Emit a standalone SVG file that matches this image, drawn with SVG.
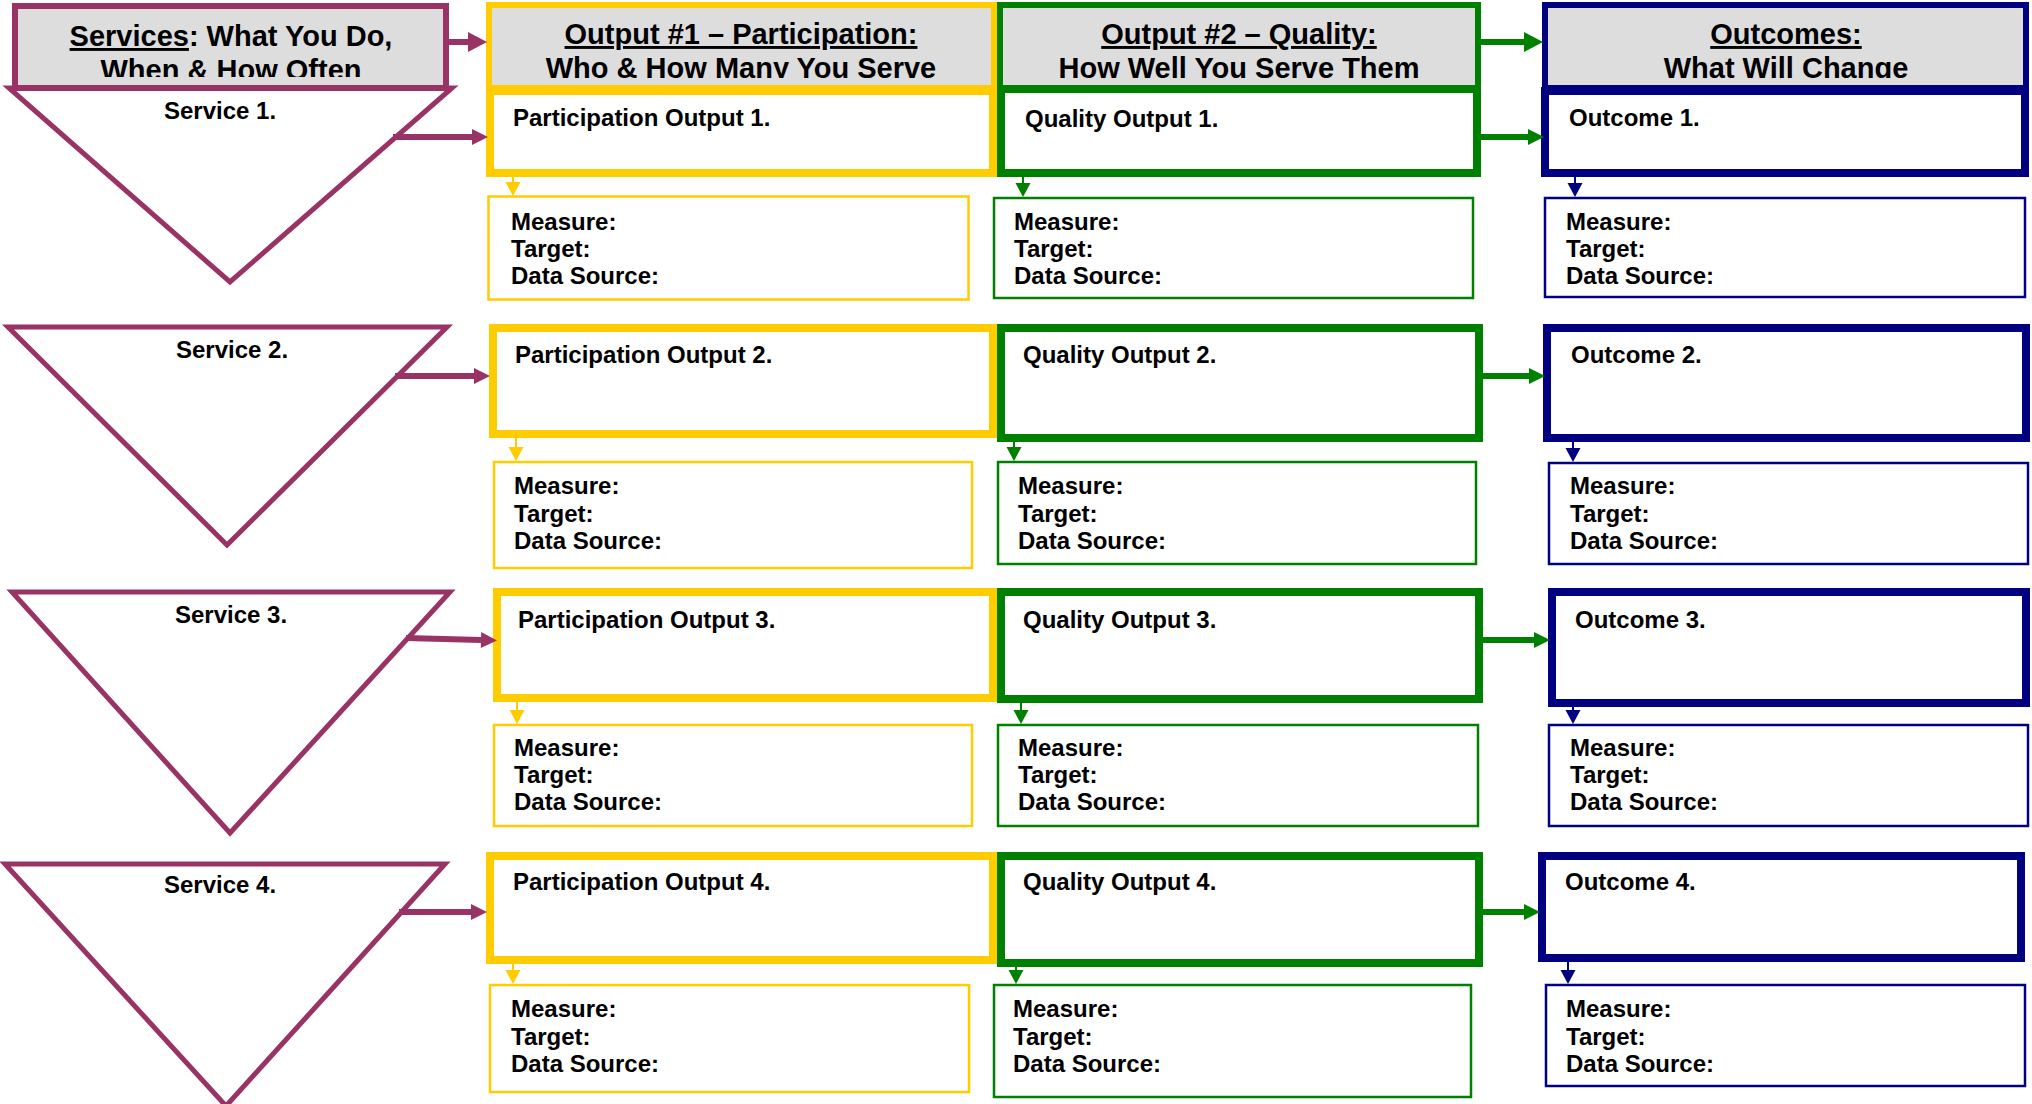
<svg xmlns="http://www.w3.org/2000/svg" width="2032" height="1104" viewBox="0 0 2032 1104">
<style>
text{font-family:"Liberation Sans",Arial,sans-serif;font-weight:bold;fill:#000}
.h{font-size:29px;text-anchor:middle}
.t{font-size:24px}
.c{text-anchor:middle}
.u{text-decoration:underline}
.tri{fill:#fff;stroke:#993366;stroke-width:5;stroke-linejoin:miter}
.hp{fill:#ddd;stroke:#993366;stroke-width:6}
.hy{fill:#ddd;stroke:#ffcc00;stroke-width:6}
.hg{fill:#ddd;stroke:#008000;stroke-width:6}
.hn{fill:#ddd;stroke:#000080;stroke-width:6}
.by{fill:#fff;stroke:#ffcc00;stroke-width:8}
.bg{fill:#fff;stroke:#008000;stroke-width:8}
.bn{fill:#fff;stroke:#000080;stroke-width:8}
.my{fill:#fff;stroke:#ffcc00;stroke-width:2.5}
.mg{fill:#fff;stroke:#008000;stroke-width:2.5}
.mn{fill:#fff;stroke:#000080;stroke-width:2.5}
.ap{fill:none;stroke:#993366;stroke-width:6;marker-end:url(#mp)}
.apb{fill:none;stroke:#993366;stroke-width:6;marker-end:url(#mpb)}
.ag{fill:none;stroke:#008000;stroke-width:6;marker-end:url(#mg)}
.agb{fill:none;stroke:#008000;stroke-width:6;marker-end:url(#mgb)}
.sy{fill:none;stroke:#ffcc00;stroke-width:2;marker-end:url(#sy)}
.sg{fill:none;stroke:#008000;stroke-width:2;marker-end:url(#sg)}
.sn{fill:none;stroke:#000080;stroke-width:2;marker-end:url(#sn)}
</style>
<defs>
<clipPath id="hc"><rect x="0" y="0" width="2032" height="78"/></clipPath>
<clipPath id="hs"><rect x="0" y="0" width="2032" height="77"/></clipPath>
<marker id="mp" markerUnits="userSpaceOnUse" markerWidth="16" markerHeight="16" refX="0" refY="8" orient="auto" overflow="visible"><path d="M0,0 L16,8 L0,16 z" fill="#993366"/></marker>
<marker id="mpb" markerUnits="userSpaceOnUse" markerWidth="19" markerHeight="20" refX="0" refY="10" orient="auto" overflow="visible"><path d="M0,0 L19,10 L0,20 z" fill="#993366"/></marker>
<marker id="mg" markerUnits="userSpaceOnUse" markerWidth="16" markerHeight="16" refX="0" refY="8" orient="auto" overflow="visible"><path d="M0,0 L16,8 L0,16 z" fill="#008000"/></marker>
<marker id="mgb" markerUnits="userSpaceOnUse" markerWidth="19" markerHeight="20" refX="0" refY="10" orient="auto" overflow="visible"><path d="M0,0 L19,10 L0,20 z" fill="#008000"/></marker>
<marker id="sy" markerUnits="userSpaceOnUse" markerWidth="14" markerHeight="15" refX="0" refY="7.5" orient="auto" overflow="visible"><path d="M0,0 L14,7.5 L0,15 z" fill="#ffcc00"/></marker>
<marker id="sg" markerUnits="userSpaceOnUse" markerWidth="14" markerHeight="15" refX="0" refY="7.5" orient="auto" overflow="visible"><path d="M0,0 L14,7.5 L0,15 z" fill="#008000"/></marker>
<marker id="sn" markerUnits="userSpaceOnUse" markerWidth="14" markerHeight="15" refX="0" refY="7.5" orient="auto" overflow="visible"><path d="M0,0 L14,7.5 L0,15 z" fill="#000080"/></marker>
</defs>
<rect width="2032" height="1104" fill="#fff"/>

<!-- Services column -->
<g id="service1"><polygon class="tri" points="9,88 452,88 230,282"/><text class="t c" x="220" y="119">Service 1.</text></g>
<g id="services-header"><rect class="hp" x="15" y="6" width="431" height="82"/>
<text class="h" x="231" y="46"><tspan class="u">Services</tspan>: What You Do,</text>
<text class="h" x="231" y="80" clip-path="url(#hs)">When &amp; How Often</text></g>
<g id="service2"><polygon class="tri" points="8,327 447,327 227,545"/><text class="t c" x="232" y="358">Service 2.</text></g>
<g id="service3"><polygon class="tri" points="12,592 450,592 230,833"/><text class="t c" x="231" y="623">Service 3.</text></g>
<g id="service4"><polygon class="tri" points="5,864 445,864 226,1106"/><text class="t c" x="220" y="893">Service 4.</text></g>

<!-- Participation column -->
<g id="participation-header"><rect class="hy" x="489" y="5" width="505" height="83"/>
<text class="h u" x="741" y="44">Output #1 – Participation:</text>
<text class="h" x="741" y="78" clip-path="url(#hc)">Who &amp; How Many You Serve</text></g>
<g id="participation1"><rect class="by" x="490" y="91" width="503" height="82"/><text class="t" x="513" y="126">Participation Output 1.</text></g>
<g id="participation1-measure"><rect class="my" x="488.5" y="196.5" width="480" height="103"/>
<text class="t" x="511" y="230">Measure:</text><text class="t" x="511" y="257">Target:</text><text class="t" x="511" y="284">Data Source:</text></g>
<g id="participation2"><rect class="by" x="493" y="328" width="500" height="106"/><text class="t" x="515" y="363">Participation Output 2.</text></g>
<g id="participation2-measure"><rect class="my" x="494" y="462" width="478" height="106"/>
<text class="t" x="514" y="494">Measure:</text><text class="t" x="514" y="522">Target:</text><text class="t" x="514" y="549">Data Source:</text></g>
<g id="participation3"><rect class="by" x="497" y="592" width="496" height="106"/><text class="t" x="518" y="628">Participation Output 3.</text></g>
<g id="participation3-measure"><rect class="my" x="494" y="725" width="478" height="101"/>
<text class="t" x="514" y="756">Measure:</text><text class="t" x="514" y="783">Target:</text><text class="t" x="514" y="810">Data Source:</text></g>
<g id="participation4"><rect class="by" x="490" y="856" width="503" height="104"/><text class="t" x="513" y="890">Participation Output 4.</text></g>
<g id="participation4-measure"><rect class="my" x="490" y="985" width="479" height="107"/>
<text class="t" x="511" y="1017">Measure:</text><text class="t" x="511" y="1045">Target:</text><text class="t" x="511" y="1072">Data Source:</text></g>

<!-- Quality column -->
<g id="quality-header"><rect class="hg" x="1000" y="5" width="478" height="83"/>
<text class="h u" x="1239" y="44">Output #2 – Quality:</text>
<text class="h" x="1239" y="78" clip-path="url(#hc)">How Well You Serve Them</text></g>
<g id="quality1"><rect class="bg" x="1001" y="89" width="476" height="84"/><text class="t" x="1025" y="127">Quality Output 1.</text></g>
<g id="quality1-measure"><rect class="mg" x="994" y="198" width="479" height="100"/>
<text class="t" x="1014" y="230">Measure:</text><text class="t" x="1014" y="257">Target:</text><text class="t" x="1014" y="284">Data Source:</text></g>
<g id="quality2"><rect class="bg" x="1001" y="328" width="478" height="110"/><text class="t" x="1023" y="363">Quality Output 2.</text></g>
<g id="quality2-measure"><rect class="mg" x="998" y="462" width="478" height="102"/>
<text class="t" x="1018" y="494">Measure:</text><text class="t" x="1018" y="522">Target:</text><text class="t" x="1018" y="549">Data Source:</text></g>
<g id="quality3"><rect class="bg" x="1001" y="592" width="478" height="107"/><text class="t" x="1023" y="628">Quality Output 3.</text></g>
<g id="quality3-measure"><rect class="mg" x="998" y="725" width="480" height="101"/>
<text class="t" x="1018" y="756">Measure:</text><text class="t" x="1018" y="783">Target:</text><text class="t" x="1018" y="810">Data Source:</text></g>
<g id="quality4"><rect class="bg" x="1001" y="856" width="478" height="107"/><text class="t" x="1023" y="890">Quality Output 4.</text></g>
<g id="quality4-measure"><rect class="mg" x="994" y="985" width="477" height="112"/>
<text class="t" x="1013" y="1017">Measure:</text><text class="t" x="1013" y="1045">Target:</text><text class="t" x="1013" y="1072">Data Source:</text></g>

<!-- Outcomes column -->
<g id="outcomes-header"><rect class="hn" x="1545" y="5" width="481" height="83"/>
<text class="h u" x="1786" y="44">Outcomes:</text>
<text class="h" x="1786" y="78" clip-path="url(#hc)">What Will Change</text></g>
<g id="outcome1"><rect class="bn" x="1545" y="91" width="480" height="82"/><text class="t" x="1569" y="126">Outcome 1.</text></g>
<g id="outcome1-measure"><rect class="mn" x="1545" y="198" width="480" height="99"/>
<text class="t" x="1566" y="230">Measure:</text><text class="t" x="1566" y="257">Target:</text><text class="t" x="1566" y="284">Data Source:</text></g>
<g id="outcome2"><rect class="bn" x="1547" y="328" width="479" height="110"/><text class="t" x="1571" y="363">Outcome 2.</text></g>
<g id="outcome2-measure"><rect class="mn" x="1549" y="463" width="479" height="101"/>
<text class="t" x="1570" y="494">Measure:</text><text class="t" x="1570" y="522">Target:</text><text class="t" x="1570" y="549">Data Source:</text></g>
<g id="outcome3"><rect class="bn" x="1552" y="592" width="474" height="111"/><text class="t" x="1575" y="628">Outcome 3.</text></g>
<g id="outcome3-measure"><rect class="mn" x="1549" y="725" width="479" height="101"/>
<text class="t" x="1570" y="756">Measure:</text><text class="t" x="1570" y="783">Target:</text><text class="t" x="1570" y="810">Data Source:</text></g>
<g id="outcome4"><rect class="bn" x="1542" y="856" width="479" height="102"/><text class="t" x="1565" y="890">Outcome 4.</text></g>
<g id="outcome4-measure"><rect class="mn" x="1546" y="985" width="479" height="101"/>
<text class="t" x="1566" y="1017">Measure:</text><text class="t" x="1566" y="1045">Target:</text><text class="t" x="1566" y="1072">Data Source:</text></g>

<!-- Connectors -->
<g id="connectors">
<path class="apb" d="M449,42 H468"/>
<path class="agb" d="M1481,42 H1524"/>
<path class="ap" d="M393,137 H472"/>
<path class="ag" d="M1481,137 H1528"/>
<path class="ap" d="M395,376 H474"/>
<path class="ag" d="M1483,376 H1529"/>
<path class="ap" d="M406,638 L481,640"/>
<path class="ag" d="M1483,640 H1534"/>
<path class="ap" d="M399,912 H471"/>
<path class="ag" d="M1483,912 H1524"/>
<path class="sy" d="M513,177 V182"/>
<path class="sg" d="M1023,177 V183"/>
<path class="sn" d="M1575,177 V183"/>
<path class="sy" d="M516,438 V447"/>
<path class="sg" d="M1014,442 V447"/>
<path class="sn" d="M1573,442 V448"/>
<path class="sy" d="M517,702 V710"/>
<path class="sg" d="M1021,703 V710"/>
<path class="sn" d="M1573,707 V710"/>
<path class="sy" d="M513,964 V970"/>
<path class="sg" d="M1016,967 V970"/>
<path class="sn" d="M1568,962 V970"/>
</g>
</svg>
